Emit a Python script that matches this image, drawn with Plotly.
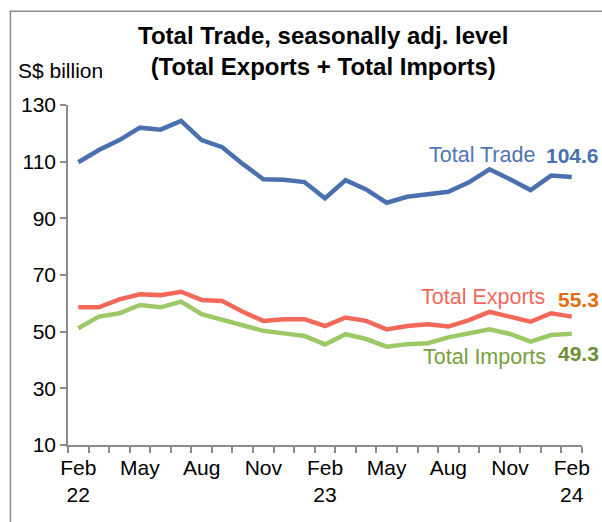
import plotly.graph_objects as go

months = ["Feb 22","Mar 22","Apr 22","May 22","Jun 22","Jul 22","Aug 22","Sep 22","Oct 22","Nov 22","Dec 22","Jan 23",
          "Feb 23","Mar 23","Apr 23","May 23","Jun 23","Jul 23","Aug 23","Sep 23","Oct 23","Nov 23","Dec 23","Jan 24","Feb 24"]
total_trade = [109.8,114.1,117.6,122.0,121.3,124.4,117.6,115.1,109.2,103.8,103.6,102.8,
               97.1,103.5,100.2,95.5,97.6,98.5,99.4,102.7,107.3,103.8,100.0,105.1,104.6]
total_exports = [58.6,58.6,61.4,63.2,62.9,64.1,61.2,60.8,57.0,53.8,54.4,54.4,
                 52.0,55.0,53.8,50.8,52.0,52.6,51.8,54.1,57.0,55.1,53.5,56.5,55.3]
total_imports = [51.2,55.3,56.5,59.4,58.6,60.6,56.2,54.1,52.3,50.3,49.4,48.5,
                 45.5,49.1,47.4,44.7,45.6,45.9,48.0,49.2,50.8,49.2,46.5,48.8,49.3]
tick_idx = [0,3,6,9,12,15,18,21,24]
tick_text = ["Feb<br>22","May","Aug","Nov","Feb<br>23","May","Aug","Nov","Feb<br>24"]

FONT = "Arial, Liberation Sans, sans-serif"
x = list(range(len(months)))

fig = go.Figure()
fig.add_trace(go.Scatter(x=x, y=total_trade, mode="lines", line=dict(color="#4A70AE", width=4.5), name="Total Trade", hoverinfo="skip"))
fig.add_trace(go.Scatter(x=x, y=total_exports, mode="lines", line=dict(color="#F2695C", width=4.5), name="Total Exports", hoverinfo="skip"))
fig.add_trace(go.Scatter(x=x, y=total_imports, mode="lines", line=dict(color="#9CC866", width=4.5), name="Total Imports", hoverinfo="skip"))

fig.update_layout(
    width=602, height=522,
    margin=dict(l=68, r=17, t=105, b=77),
    paper_bgcolor="white", plot_bgcolor="white",
    showlegend=False,
    font=dict(family=FONT, size=21, color="black"),
    xaxis=dict(range=[-0.5, 24.5], tickvals=tick_idx, ticktext=tick_text, ticks="",
               showgrid=False, zeroline=False, showline=True, linecolor="#8C8C8C", linewidth=1.5,
               tickfont=dict(size=21), ticklabelstandoff=3,
               minor=dict(tick0=-0.5, dtick=1, ticks="outside", ticklen=6, tickcolor="#8C8C8C", tickwidth=1.5, showgrid=False)),
    yaxis=dict(range=[10, 130], tickvals=[10,30,50,70,90,110,130], ticks="outside", ticklen=6,
               tickcolor="#8C8C8C", tickwidth=1.5, showgrid=False, zeroline=False,
               showline=True, linecolor="#8C8C8C", linewidth=1.5, tickfont=dict(size=21)),
)

ann = [
    dict(text="<b>Total Trade, seasonally adj. level<br>(Total Exports + Total Imports)</b>", x=0.497, y=1.25,
         xanchor="center", yanchor="top", font=dict(size=24, color="black")),
    dict(text="S$ billion", x=-0.101, y=1.1, xanchor="left", yanchor="middle", font=dict(size=21, color="black")),
]
for a in ann:
    a.update(xref="paper", yref="paper", showarrow=False)
    fig.add_annotation(**a)

labels = [
    ("Total Trade", 22.3, 112.4, "#4F76B6", 21.5),
    ("Total Exports", 22.8, 62.2, "#F2695C", 21.5),
    ("Total Imports", 22.85, 41.0, "#77A040", 21.5),
]
for t, xx, yy, col, sz in labels:
    fig.add_annotation(text=t, x=xx, y=yy, xref="x", yref="y",
                       xanchor="right", yanchor="middle", showarrow=False,
                       font=dict(size=sz, color=col))

values = [
    ("104.6", 112.35, "#4A70AE"),
    ("55.3", 61.3, "#E46C0A"),
    ("49.3", 42.45, "#6E8F33"),
]
for t, yy, col in values:
    fig.add_annotation(text=f"<b>{t}</b>", x=1.036, y=yy, xref="paper", yref="y",
                       xanchor="right", yanchor="middle", showarrow=False,
                       font=dict(size=21, color=col))

# outer frame (chart border)
fig.add_shape(type="rect", xref="paper", yref="paper", x0=-0.112, y0=-0.5, x1=1.2, y1=1.276,
              line=dict(color="#8C8C8C", width=1.5), fillcolor="rgba(0,0,0,0)", layer="below")

fig.write_html("out.html")
